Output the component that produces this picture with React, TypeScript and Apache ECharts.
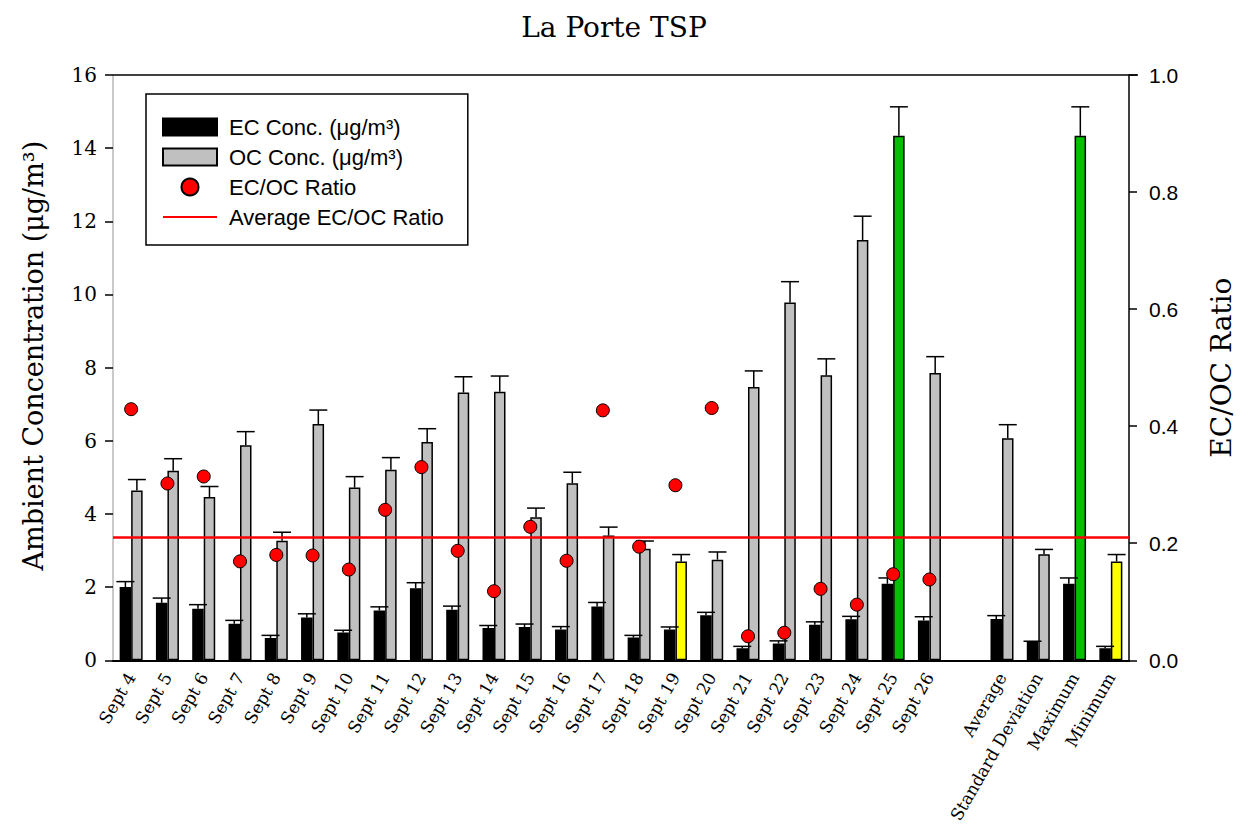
import React, { useEffect, useRef } from "react";
import * as echarts from "echarts";

const categories = [
  "Sept 4", "Sept 5", "Sept 6", "Sept 7", "Sept 8", "Sept 9", "Sept 10", "Sept 11",
  "Sept 12", "Sept 13", "Sept 14", "Sept 15", "Sept 16", "Sept 17", "Sept 18", "Sept 19",
  "Sept 20", "Sept 21", "Sept 22", "Sept 23", "Sept 24", "Sept 25", "Sept 26", "",
  "Average", "Standard Deviation", "Maximum", "Minimum",
];

const ecConc = [
  2.0, 1.57, 1.41, 1.0, 0.61, 1.17, 0.76, 1.36, 1.97, 1.38, 0.88, 0.91, 0.84, 1.47, 0.62, 0.84,
  1.23, 0.33, 0.46, 0.97, 1.12, 2.09, 1.09, null, 1.13, 0.51, 2.09, 0.33,
];
const ecErr = [
  0.15, 0.13, 0.11, 0.09, 0.07, 0.1, 0.06, 0.1, 0.15, 0.1, 0.07, 0.08, 0.08, 0.11, 0.06, 0.07,
  0.08, 0.05, 0.07, 0.08, 0.08, 0.16, 0.1, null, 0.09, 0.01, 0.16, 0.05,
];
const ocConc = [
  4.64, 5.18, 4.46, 5.88, 3.27, 6.46, 4.72, 5.21, 5.97, 7.32, 7.34, 3.91, 4.84, 3.41, 3.05, 2.7,
  2.75, 7.47, 9.78, 7.79, 11.49, 14.34, 7.85, null, 6.07, 2.9, 14.34, 2.7,
];
const ocErr = [
  0.3, 0.33, 0.29, 0.37, 0.23, 0.38, 0.3, 0.33, 0.36, 0.43, 0.43, 0.25, 0.3, 0.23, 0.21, 0.19,
  0.21, 0.44, 0.57, 0.45, 0.65, 0.79, 0.45, null, 0.37, 0.13, 0.79, 0.19,
];
const ratio = [
  0.429, 0.302, 0.314, 0.169, 0.18, 0.179, 0.155, 0.257, 0.33, 0.187, 0.118, 0.228, 0.17, 0.427,
  0.194, 0.299, 0.431, 0.041, 0.047, 0.122, 0.095, 0.147, 0.138, null, null, null, null, null,
];
const averageRatio = 0.2143;
// highlight colours for max (green) / min (yellow) OC bars
const ocHighlight: Record<string, string> = {
  "Sept 19": "#ffff00",
  "Sept 25": "#00c000",
  Maximum: "#00c000",
  Minimum: "#ffff00",
};

const leftTicks = [0, 2, 4, 6, 8, 10, 12, 14, 16];
const rightTicks = [0, 0.2, 0.4, 0.6, 0.8, 1.0];

const BAR_W = 11.5;

function errorSeries(values: (number | null)[], errs: (number | null)[], dx: number) {
  const data: number[][] = [];
  values.forEach((v, i) => {
    if (v != null && errs[i] != null) data.push([i, v, errs[i] as number]);
  });
  return {
    type: "custom",
    name: "err" + dx,
    xAxisIndex: 0,
    yAxisIndex: 0,
    z: 4,
    silent: true,
    data,
    renderItem: (params: any, api: any) => {
      const i = api.value(0);
      const v = api.value(1);
      const e = api.value(2);
      const p0 = api.coord([i, v]);
      const p1 = api.coord([i, v + e]);
      const x = p0[0] + dx;
      const style = { stroke: "#000", lineWidth: 1.5 };
      return {
        type: "group",
        children: [
          { type: "line", shape: { x1: x, y1: p0[1], x2: x, y2: p1[1] }, style },
          { type: "line", shape: { x1: x - 9, y1: p1[1], x2: x + 9, y2: p1[1] }, style },
        ],
      };
    },
  };
}

export default function App() {
  const ref = useRef<HTMLDivElement>(null);
  useEffect(() => {
    if (!ref.current) return;
    const chart = echarts.init(ref.current, null, { renderer: "svg" });
    const serif = "DejaVu Serif";
    const sans = "Liberation Sans";
    const option: any = {
      animation: false,
      backgroundColor: "#fff",
      title: {
        text: "La Porte TSP",
        left: 609,
        textAlign: "center",
        top: 8,
        textStyle: { fontFamily: serif, fontSize: 28, fontWeight: "normal", color: "#000" },
      },
      grid: { left: 113, right: 105, top: 75, bottom: 164 },
      legend: {
        orient: "vertical",
        left: 146,
        top: 94,
        padding: [22, 24, 17, 16],
        borderColor: "#000",
        borderWidth: 1.5,
        itemWidth: 54,
        itemHeight: 17,
        itemGap: 8,
        textStyle: {
          fontFamily: sans,
          fontSize: 22,
          lineHeight: 17,
          color: "#000",
          padding: [0, 0, 0, 7],
        },
        data: [
          { name: "EC Conc. (μg/m³)", icon: "rect" },
          { name: "OC Conc. (μg/m³)", icon: "rect" },
          { name: "EC/OC Ratio", icon: "circle" },
          { name: "Average EC/OC Ratio", itemStyle: { opacity: 0 } },
        ],
      },
      xAxis: {
        type: "category",
        data: categories,
        boundaryGap: true,
        axisLine: { lineStyle: { color: "#000", width: 2 } },
        axisTick: { alignWithLabel: true, length: 8, lineStyle: { color: "#000", width: 1.5 } },
        axisLabel: {
          interval: 0,
          rotate: 60,
          margin: 14,
          fontFamily: serif,
          fontSize: 17,
          color: "#000",
        },
      },
      yAxis: [
        {
          type: "value",
          min: leftTicks[0],
          max: leftTicks[leftTicks.length - 1],
          interval: 2,
          name: "Ambient Concentration (μg/m³)",
          nameLocation: "middle",
          nameGap: 66,
          nameTextStyle: {
            fontFamily: serif,
            fontSize: 27,
            color: "#000",
            padding: [0, 0, 0, 24],
          },
          splitLine: { show: false },
          axisLine: { show: true, lineStyle: { color: "#b8b8b8", width: 1.5 } },
          axisTick: { show: true, length: 8, lineStyle: { color: "#000", width: 1.5 } },
          axisLabel: { margin: 16, fontFamily: serif, fontSize: 20, color: "#000" },
        },
        {
          type: "value",
          min: rightTicks[0],
          max: rightTicks[rightTicks.length - 1],
          interval: 0.2,
          position: "right",
          name: "EC/OC Ratio",
          nameLocation: "middle",
          nameGap: 78,
          nameRotate: 90,
          nameTextStyle: { fontFamily: serif, fontSize: 28, color: "#000" },
          splitLine: { show: false },
          axisLine: { show: true, lineStyle: { color: "#000", width: 1.5 } },
          axisTick: { show: true, length: 8, lineStyle: { color: "#000", width: 1.5 } },
          axisLabel: {
            margin: 20,
            fontFamily: sans,
            fontSize: 21,
            color: "#000",
            formatter: (v: number) => v.toFixed(1),
          },
        },
      ],
      graphic: [
        {
          type: "line",
          shape: { x1: 113, y1: 75, x2: 1138, y2: 75 },
          style: { stroke: "#000", lineWidth: 1.5 },
          z: 10,
        },
      ],
      series: [
        {
          name: "EC Conc. (μg/m³)",
          type: "bar",
          data: ecConc,
          barWidth: BAR_W,
          barGap: "0%",
          itemStyle: { color: "#000", borderColor: "#000", borderWidth: 1.5 },
          z: 2,
        },
        {
          name: "OC Conc. (μg/m³)",
          type: "bar",
          barWidth: BAR_W,
          barGap: "0%",
          data: ocConc.map((v, i) =>
            ocHighlight[categories[i]]
              ? { value: v, itemStyle: { color: ocHighlight[categories[i]] } }
              : v
          ),
          itemStyle: { color: "#c0c0c0", borderColor: "#000", borderWidth: 1.5 },
          z: 2,
        },
        errorSeries(ecConc, ecErr, -BAR_W / 2),
        errorSeries(ocConc, ocErr, BAR_W / 2),
        {
          name: "Average EC/OC Ratio",
          type: "line",
          yAxisIndex: 1,
          data: [],
          symbol: "none",
          showSymbol: false,
          itemStyle: { color: "#ff0000" },
          lineStyle: { color: "#ff0000", width: 2.5 },
          markLine: {
            silent: true,
            symbol: "none",
            label: { show: false },
            lineStyle: { color: "#ff0000", width: 2.5, type: "solid" },
            data: [{ yAxis: averageRatio }],
          },
          z: 5,
        },
        {
          name: "EC/OC Ratio",
          type: "scatter",
          yAxisIndex: 1,
          data: ratio,
          symbol: "circle",
          symbolSize: 13,
          itemStyle: { color: "#ff0000", borderColor: "#000", borderWidth: 1, opacity: 1 },
          z: 6,
        },
      ],
    };
    chart.setOption(option);
    return () => chart.dispose();
  }, []);
  return (
    <div
      ref={ref}
      style={{ position: "fixed", left: 0, top: 0, width: 1243, height: 826, background: "#fff" }}
    />
  );
}
